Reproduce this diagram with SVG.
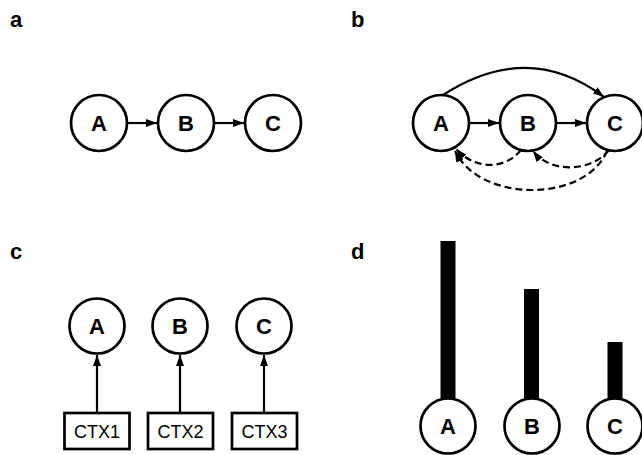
<svg xmlns="http://www.w3.org/2000/svg" width="642" height="455" viewBox="0 0 642 455">
<style>
.node{fill:#fff;stroke:#000;stroke-width:2.7}
.lbl{font-family:"Liberation Sans",Arial,sans-serif;font-weight:bold;font-size:22px;text-anchor:middle;fill:#000}
.panel{font-family:"Liberation Sans",Arial,sans-serif;font-weight:bold;font-size:22px;fill:#000}
.box{fill:#fff;stroke:#000;stroke-width:2.7}
.boxt{font-family:"Liberation Sans",Arial,sans-serif;font-size:18px;text-anchor:middle;fill:#000}
.edge{fill:none;stroke:#000;stroke-width:2.2}
.dash{fill:none;stroke:#000;stroke-width:2.2;stroke-dasharray:7,4}
.bar{fill:#000}
</style>
<defs>
<marker id="arr" markerUnits="userSpaceOnUse" markerWidth="11" markerHeight="10" viewBox="0 0 11 10" refX="11" refY="5" orient="auto">
<path d="M0,1 L11,5 L0,9 Z" fill="#000"/>
</marker>
</defs>
<rect width="642" height="455" fill="#fff"/>
<text class="panel" x="10" y="27">a</text>
<text class="panel" x="351" y="27">b</text>
<text class="panel" x="10" y="259">c</text>
<text class="panel" x="351" y="259">d</text>
<g id="connectors">
<line class="edge" x1="127" y1="123" x2="157" y2="123" marker-end="url(#arr)"/>
<line class="edge" x1="214" y1="123" x2="244" y2="123" marker-end="url(#arr)"/>
<line class="edge" x1="469" y1="123" x2="499" y2="123" marker-end="url(#arr)"/>
<line class="edge" x1="556" y1="123" x2="586" y2="123" marker-end="url(#arr)"/>
<path class="edge" d="M443,95 Q528,40 604,97" marker-end="url(#arr)"/>
<path class="dash" d="M521,150 C505,170 475,170 456,149" marker-end="url(#arr)"/>
<path class="dash" d="M609,150 C590,173 550,173 533,151" marker-end="url(#arr)"/>
<path class="dash" d="M607,151 C585,203 480,203 455,151" marker-end="url(#arr)"/>
<line class="edge" x1="97" y1="413" x2="97" y2="355" marker-end="url(#arr)"/>
<line class="edge" x1="180" y1="413" x2="180" y2="355" marker-end="url(#arr)"/>
<line class="edge" x1="264" y1="413" x2="264" y2="355" marker-end="url(#arr)"/>
</g>
<g id="a-A"><circle class="node" cx="99" cy="123" r="28"/><text class="lbl" x="99" y="131">A</text></g>
<g id="a-B"><circle class="node" cx="186" cy="123" r="28"/><text class="lbl" x="186" y="131">B</text></g>
<g id="a-C"><circle class="node" cx="273" cy="123" r="28"/><text class="lbl" x="273" y="131">C</text></g>
<g id="b-A"><circle class="node" cx="441" cy="123" r="28"/><text class="lbl" x="441" y="131">A</text></g>
<g id="b-B"><circle class="node" cx="528" cy="123" r="28"/><text class="lbl" x="528" y="131">B</text></g>
<g id="b-C"><circle class="node" cx="615" cy="123" r="28"/><text class="lbl" x="615" y="131">C</text></g>
<g id="c-A"><circle class="node" cx="97" cy="326" r="27.5"/><text class="lbl" x="97" y="334">A</text></g>
<g id="c-B"><circle class="node" cx="180" cy="326" r="27.5"/><text class="lbl" x="180" y="334">B</text></g>
<g id="c-C"><circle class="node" cx="264" cy="326" r="27.5"/><text class="lbl" x="264" y="334">C</text></g>
<g id="c-CTX1"><rect class="box" x="64.5" y="413" width="65" height="36"/><text class="boxt" x="97" y="438">CTX1</text></g>
<g id="c-CTX2"><rect class="box" x="148" y="413" width="65" height="36"/><text class="boxt" x="180.5" y="438">CTX2</text></g>
<g id="c-CTX3"><rect class="box" x="232" y="413" width="65" height="36"/><text class="boxt" x="264.5" y="438">CTX3</text></g>
<g id="d-A"><rect class="bar" x="440.5" y="241" width="15" height="160"/><circle class="node" cx="448" cy="426" r="27.5"/><text class="lbl" x="448" y="434">A</text></g>
<g id="d-B"><rect class="bar" x="524" y="289" width="15" height="112"/><circle class="node" cx="532" cy="426" r="27.5"/><text class="lbl" x="532" y="434">B</text></g>
<g id="d-C"><rect class="bar" x="607.5" y="342" width="15" height="59"/><circle class="node" cx="615" cy="426" r="27.5"/><text class="lbl" x="615" y="434">C</text></g>
</svg>
